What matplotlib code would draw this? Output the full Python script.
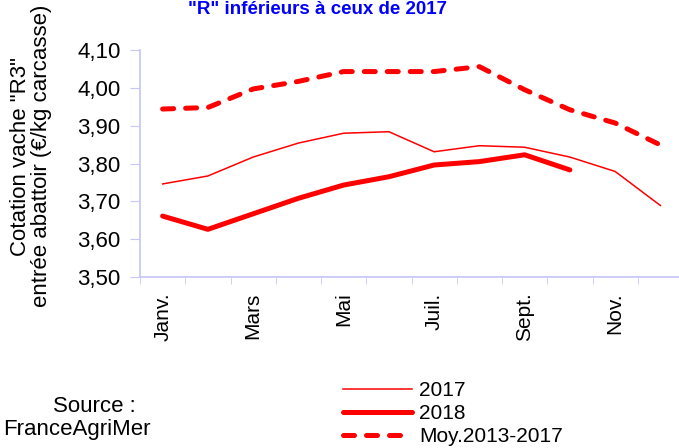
import numpy as np
import matplotlib.pyplot as plt

plt.rcParams['font.family'] = ['Liberation Sans', 'DejaVu Sans']

months = ['Janv.', 'Févr.', 'Mars', 'Avr.', 'Mai', 'Juin', 'Juil.', 'Août', 'Sept.', 'Oct.', 'Nov.', 'Déc.']
shown_months = ['Janv.', 'Mars', 'Mai', 'Juil.', 'Sept.', 'Nov.']

# --- cotations (euros/kg carcasse)
y2017 = [3.746, 3.767, 3.817, 3.854, 3.880, 3.884, 3.831, 3.847, 3.843, 3.817, 3.779, 3.689]
y2018 = [3.661, 3.626, 3.667, 3.708, 3.743, 3.765, 3.796, 3.805, 3.823, 3.783]
ymoy = [3.944, 3.948, 3.997, 4.017, 4.043, 4.043, 4.043, 4.056, 3.995, 3.942, 3.907, 3.849]

yticks = [3.50, 3.60, 3.70, 3.80, 3.90, 4.00, 4.10]
ytick_labels = ['3,50', '3,60', '3,70', '3,80', '3,90', '4,00', '4,10']

axis_col = '#c8c8f8'
red = '#ff0000'

fig = plt.figure(figsize=(6.79, 4.48), dpi=100)
ax = fig.add_axes([140/679., 1-277/448., 543/679., 227/448.])

x = np.arange(len(months))
l17, = ax.plot(x, y2017, color=red, lw=1.1, label='2017')
l18, = ax.plot(x[:len(y2018)], y2018, color=red, lw=3.6, solid_capstyle='round', label='2018')
lmoy, = ax.plot(x, ymoy, color=red, lw=3.6, dashes=(2.2, 2.4), dash_capstyle='round', label='Moy.2013-2017')

ax.set_xlim(-0.5, 11.5)
ax.set_ylim(3.50, 4.10)

ax.set_yticks(yticks)
ax.set_yticklabels(ytick_labels, fontsize=16)
ax.tick_params(axis='y', length=7, color=axis_col, pad=7)

ax.set_xticks([months.index(m) for m in shown_months])
ax.set_xticklabels(shown_months, rotation=90, fontsize=15)
ax.set_xticks(np.arange(-0.5, 12.0, 1.0), minor=True)
ax.tick_params(axis='x', which='major', length=0, pad=11)
ax.tick_params(axis='x', which='minor', length=5, color=axis_col)

for s in ['top', 'right']:
    ax.spines[s].set_visible(False)
for s in ['left', 'bottom']:
    ax.spines[s].set_color(axis_col)
    ax.spines[s].set_linewidth(1.3)

fig.text(317/679., 1-9/448., '"R" inférieurs à ceux de 2017', color='#0000ff', fontsize=13.5,
         fontweight='bold', ha='center', va='center')

fig.text(31/679., 1-156/448., 'Cotation vache "R3"\nentrée abattoir (€/kg carcasse)', rotation=90,
         fontsize=16, ha='center', va='center', linespacing=1.0)

fig.text(94/679., 1-406/448., 'Source :', fontsize=16, ha='center', va='center')
fig.text(77/679., 1-429/448., 'FranceAgriMer', fontsize=16, ha='center', va='center')

fig.legend(handles=[l17, l18, lmoy], loc='upper left', bbox_to_anchor=(343/679., 1-381/448.),
           frameon=False, fontsize=15, handlelength=3.3, labelspacing=0.2, handletextpad=0.35,
           borderpad=0, borderaxespad=0)

fig.savefig('out.png', dpi=100)
